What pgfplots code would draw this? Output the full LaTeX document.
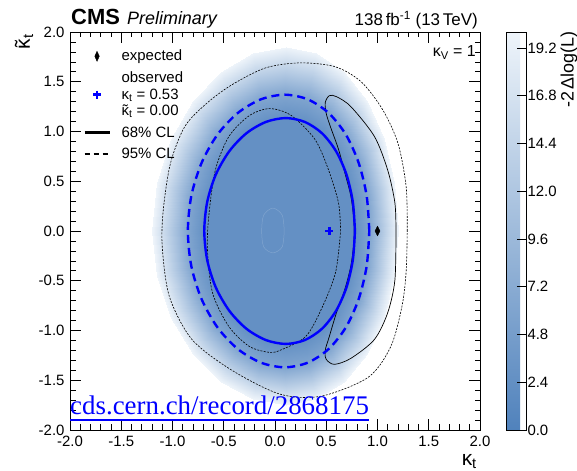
\documentclass[border=0pt]{standalone}
\usepackage{fontspec}
\setmainfont{Liberation Sans}
\newfontfamily\urlfont{Liberation Serif}
\usepackage{pgfplots}
\pgfplotsset{compat=1.18}
\newcommand{\fs}[1]{\fontsize{#1}{#1}\selectfont}
\newcommand{\tk}{\ooalign{κ\cr\hidewidth˜\hidewidth\cr}}
\pgfplotsset{
  legmark/.style={legend image code/.code={\draw[mark repeat=2,mark phase=2,##1] plot coordinates {(0bp,0bp)(12.5bp,0bp)(25bp,0bp)};}},
  legline/.style={legend image code/.code={\draw[##1] (0bp,0bp) -- (25bp,0bp);}},
}

\pgfplotstableread{
x y c
0.05 0 2.5
0.05 0 2.5
0.05 0 2.5
0.05 0 2.5
0.05 0 2.5
0.05 0 2.5
0.05 0 2.5
0.05 0 2.5
0.05 0 2.5
0.05 0 2.5
0.05 0 2.5
0.05 0 2.5
0.05 0 2.5
0.05 0 2.5
0.05 0 2.5
0.05 0 2.5
0.05 0 2.5
0.05 0 2.5
0.05 0 2.5
0.05 0 2.5
0.05 0 2.5
0.05 0 2.5
0.05 0 2.5
0.05 0 2.5
0.05 0 2.5
0.780 0.000 2.5
0.759 0.294 2.5
0.697 0.568 2.5
0.595 0.803 2.5
0.458 0.983 2.5
0.291 1.096 2.5
0.105 1.135 2.5
-0.089 1.096 2.5
-0.278 0.983 2.5
-0.445 0.803 2.5
-0.577 0.568 2.5
-0.661 0.294 2.5
-0.690 0.000 2.5
-0.661 -0.294 2.5
-0.577 -0.568 2.5
-0.445 -0.803 2.5
-0.278 -0.983 2.5
-0.089 -1.096 2.5
0.105 -1.135 2.5
0.291 -1.096 2.5
0.458 -0.983 2.5
0.595 -0.803 2.5
0.697 -0.568 2.5
0.759 -0.294 2.5
0.780 0.000 2.5
0.920 0.000 6
0.894 0.355 6
0.816 0.685 6
0.691 0.969 6
0.523 1.186 6
0.320 1.323 6
0.095 1.370 6
-0.138 1.323 6
-0.363 1.186 6
-0.561 0.969 6
-0.716 0.685 6
-0.816 0.355 6
-0.850 0.000 6
-0.816 -0.355 6
-0.716 -0.685 6
-0.561 -0.969 6
-0.363 -1.186 6
-0.138 -1.323 6
0.095 -1.370 6
0.320 -1.323 6
0.523 -1.186 6
0.691 -0.969 6
0.816 -0.685 6
0.894 -0.355 6
0.920 0.000 6
1.200 0.000 20
1.165 0.479 20
1.061 0.925 20
0.893 1.308 20
0.670 1.602 20
0.404 1.787 20
0.110 1.850 20
-0.218 1.787 20
-0.530 1.602 20
-0.804 1.308 20
-1.018 0.925 20
-1.154 0.479 20
-1.200 0.000 20
-1.154 -0.453 20
-1.018 -0.875 20
-0.804 -1.237 20
-0.530 -1.516 20
-0.218 -1.691 20
0.110 -1.750 20
0.404 -1.691 20
0.670 -1.516 20
0.893 -1.237 20
1.061 -0.875 20
1.165 -0.453 20
1.200 0.000 20
}\shading

\begin{document}
\begin{tikzpicture}
\useasboundingbox (0,0) rectangle (577bp,471bp);
\begin{axis}[
  at={(70bp,41bp)}, anchor=south west,
  scale only axis, width=410bp, height=398bp,
  xmin=-2, xmax=2, ymin=-2, ymax=2,
  xtick={-2,-1.5,...,2}, ytick={-2,-1.5,...,2},
  minor x tick num=4, minor y tick num=4,
  tick align=inside, major tick length=11bp, minor tick length=5.5bp,
  tick style={black, line width=0.6bp},
  axis line style={line width=0.9bp},
  ticklabel style={font=\fs{15}},
  xticklabel style={yshift=-3bp},
  yticklabel style={xshift=-2bp},
  /pgf/number format/fixed, /pgf/number format/fixed zerofill,
  /pgf/number format/precision=1, /pgf/number format/assume math mode=true,
  colormap={cms}{rgb255=(80,130,188) rgb255=(238,244,250)},
  point meta min=0, point meta max=20,
  colorbar,
  colorbar style={
    at={(parent axis.north east)}, anchor=north west, xshift=17.5bp,
    scale only axis, width=20bp, height=398bp,
    ytick={0,2.4,4.8,7.2,9.6,12,14.4,16.8,19.2},
    ytick pos=right, yticklabel pos=right,
    tick align=inside, major tick length=9bp,
    tick style={black, line width=0.6bp},
    axis line style={line width=0.9bp},
    yticklabel style={font=\fs{15}, xshift=-2bp,
      /pgf/number format/fixed, /pgf/number format/fixed zerofill,
      /pgf/number format/precision=1, /pgf/number format/assume math mode=true},
  },
  legend style={at={(0.025,0.965)}, anchor=north west, draw=none, fill=none,
    font=\fontsize{15}{16.5}\selectfont, row sep=5.5bp, column sep=9bp, nodes={align=left}},
  legend cell align=left,
]
\addplot[surf, shader=interp, forget plot, mesh/rows=4, mesh/cols=25, point meta=explicit]
  table[x=x, y=y, meta=c] {\shading};

% faint inner contour
\addplot[white, opacity=0.18, line width=0.5bp, smooth, forget plot] coordinates {
(0.09,0) (0.07,0.16) (-0.02,0.23) (-0.11,0.16) (-0.13,0) (-0.11,-0.16) (-0.02,-0.22) (0.07,-0.16) (0.09,0)};

% expected 95% CL, outer
\addplot[black, line width=0.6bp, dash pattern=on 2bp off 1.3bp, smooth, forget plot] coordinates {
(1.29,0) (1.28,0.44) (1.20,0.88) (1.05,1.22) (0.84,1.50) (0.59,1.65) (0.25,1.69) (-0.09,1.64)
(-0.42,1.47) (-0.67,1.28) (-0.88,1.05) (-1.02,0.68) (-1.09,0.21) (-1.10,-0.16) (-1.03,-0.66)
(-0.81,-1.09) (-0.42,-1.40) (0.05,-1.64) (0.45,-1.66) (0.91,-1.47) (1.13,-1.16) (1.24,-0.75)
(1.28,-0.40) (1.29,0)};
% expected 95% CL, inner
\addplot[black, line width=0.6bp, dash pattern=on 2bp off 1.3bp, smooth, forget plot] coordinates {
(0.64,0) (0.62,0.28) (0.52,0.62) (0.39,0.92) (0.16,1.16) (-0.05,1.23) (-0.25,1.16) (-0.45,0.95)
(-0.58,0.62) (-0.64,0.21) (-0.66,-0.16) (-0.61,-0.62) (-0.45,-0.96) (-0.25,-1.16) (-0.05,-1.22)
(0.07,-1.19) (0.30,-1.06) (0.45,-0.79) (0.59,-0.42) (0.64,0)};
% expected 68% CL
\addplot[black, line width=0.7bp, smooth, forget plot] coordinates {
(1.18,0) (1.17,0.28) (1.10,0.61) (0.97,0.95) (0.74,1.25) (0.60,1.35) (0.53,1.36) (0.49,1.29)
(0.50,1.18) (0.54,1.05) (0.62,0.82) (0.68,0.59) (0.74,0.35) (0.77,0.1) (0.77,-0.1) (0.74,-0.35)
(0.68,-0.59) (0.60,-0.82) (0.53,-1.06) (0.49,-1.20) (0.50,-1.29) (0.58,-1.34) (0.74,-1.28)
(0.97,-1.09) (1.10,-0.82) (1.17,-0.49) (1.18,0)};
% observed 95% CL
\addplot[blue, line width=2.4bp, dash pattern=on 8bp off 5bp, smooth, forget plot] coordinates {
(0.920,0.000) (0.894,0.355) (0.816,0.685) (0.691,0.969) (0.523,1.186) (0.320,1.323) (0.095,1.370)
(-0.138,1.323) (-0.363,1.186) (-0.561,0.969) (-0.716,0.685) (-0.816,0.355) (-0.850,0.000)
(-0.816,-0.355) (-0.716,-0.685) (-0.561,-0.969) (-0.363,-1.186) (-0.138,-1.323) (0.095,-1.370)
(0.320,-1.323) (0.523,-1.186) (0.691,-0.969) (0.816,-0.685) (0.894,-0.355) (0.920,0.000)};
% observed 68% CL
\addplot[blue, line width=2.4bp, smooth, forget plot] coordinates {
(0.780,0.000) (0.759,0.294) (0.697,0.568) (0.595,0.803) (0.458,0.983) (0.291,1.096) (0.105,1.135)
(-0.089,1.096) (-0.278,0.983) (-0.445,0.803) (-0.577,0.568) (-0.661,0.294) (-0.690,0.000)
(-0.661,-0.294) (-0.577,-0.568) (-0.445,-0.803) (-0.278,-0.983) (-0.089,-1.096) (0.105,-1.135)
(0.291,-1.096) (0.458,-0.983) (0.595,-0.803) (0.697,-0.568) (0.759,-0.294) (0.780,0.000)};
% expected best fit
\addplot[only marks, mark=diamond*, mark size=4.8bp, black, mark options={xscale=0.7}, forget plot]
  coordinates {(1,0)};
% observed best fit
\addplot[only marks, mark=+, mark size=4bp, blue, line width=2.6bp, forget plot]
  coordinates {(0.53,0)};

\addlegendimage{only marks, mark=diamond*, mark size=5bp, black, mark options={xscale=0.6}, legmark}
\addlegendentry{expected}
\addlegendimage{only marks, mark=+, mark size=4bp, blue, line width=2.6bp, legmark}
\addlegendentry{observed\\κ\textsubscript{t} = 0.53\\\tk\textsubscript{t} = 0.00}
\addlegendimage{black, line width=2.2bp, legline}
\addlegendentry{68\% CL}
\addlegendimage{black, line width=2.2bp, dash pattern=on 5bp off 4bp, legline}
\addlegendentry{95\% CL}
\end{axis}

\node[anchor=base west, inner sep=0, font=\bfseries\fs{22}] at (71bp,446bp) {CMS};
\node[anchor=base west, inner sep=0, font=\itshape\fs{18}] at (127bp,446bp) {Preliminary};
\node[anchor=base east, inner sep=0, font=\fs{17}] at (478bp,445bp) {138\,fb\textsuperscript{-1} (13\,TeV)};
\node[anchor=base east, inner sep=0, font=\fs{16}] at (476bp,414bp) {κ\textsubscript{V} = 1};
\node[rotate=90, anchor=east, inner sep=0, font=\fs{21}] at (26bp,437bp) {\tk\textsubscript{t}};
\node[anchor=base east, inner sep=0, font=\fs{21}] at (477bp,6bp) {κ\textsubscript{t}};
\node[rotate=90, anchor=east, inner sep=0, font=\fs{18}] at (569bp,440bp) {-2\,Δlog(L)};
\node[anchor=base west, inner sep=0, text=blue, font=\urlfont\fs{27}] (url) at (70bp,56bp) {cds.cern.ch/record/2868175};
\draw[blue, line width=2.2bp] ([yshift=-5bp]url.base west) -- ([yshift=-5bp]url.base east);
\end{tikzpicture}
\end{document}
